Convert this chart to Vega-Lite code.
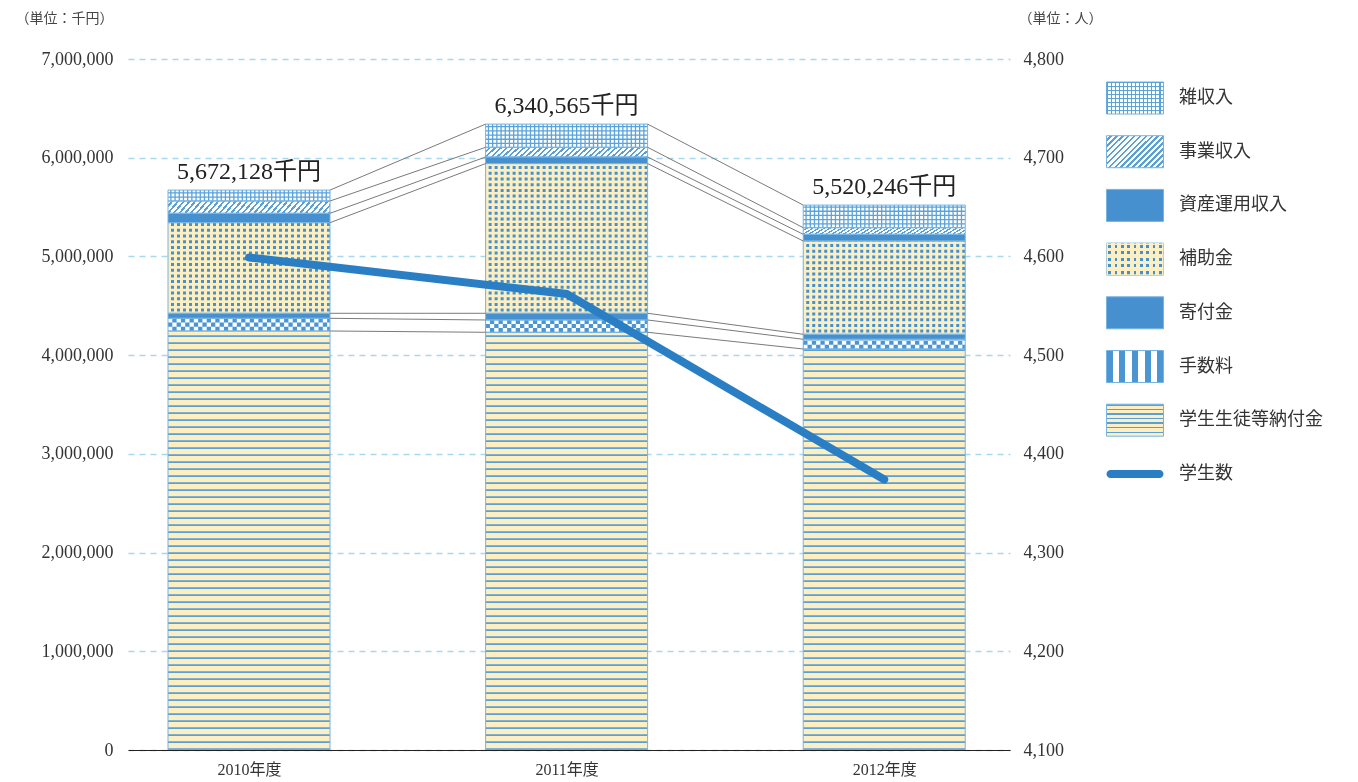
{
"$schema":"https://vega.github.io/schema/vega-lite/v6.json",
"width":882,"height":691,
"autosize":{"type":"none"},
"padding":{"left":128,"top":59,"right":348,"bottom":32},
"background":"#ffffff",
"config":{
 "view":{"stroke":null},
 "axis":{"labelFont":"Liberation Serif, Noto Sans CJK JP","labelColor":"#333333","labelFontSize":18,"titleFont":"Noto Sans CJK JP","titleFontWeight":"normal","titleColor":"#444444","titleFontSize":14}
},
"datasets":{
 "rev":[
  {"year":2010,"cat":"学生生徒等納付金","ord":1,"value":4244628},
  {"year":2010,"cat":"手数料","ord":2,"value":128600},
  {"year":2010,"cat":"寄付金","ord":3,"value":50700},
  {"year":2010,"cat":"補助金","ord":4,"value":917800},
  {"year":2010,"cat":"資産運用収入","ord":5,"value":95200},
  {"year":2010,"cat":"事業収入","ord":6,"value":124600},
  {"year":2010,"cat":"雑収入","ord":7,"value":110600},
  {"year":2011,"cat":"学生生徒等納付金","ord":1,"value":4231465},
  {"year":2011,"cat":"手数料","ord":2,"value":124600},
  {"year":2011,"cat":"寄付金","ord":3,"value":67900},
  {"year":2011,"cat":"補助金","ord":4,"value":1516500},
  {"year":2011,"cat":"資産運用収入","ord":5,"value":66900},
  {"year":2011,"cat":"事業収入","ord":6,"value":98200},
  {"year":2011,"cat":"雑収入","ord":7,"value":235000},
  {"year":2012,"cat":"学生生徒等納付金","ord":1,"value":4062246},
  {"year":2012,"cat":"手数料","ord":2,"value":98300},
  {"year":2012,"cat":"寄付金","ord":3,"value":50700},
  {"year":2012,"cat":"補助金","ord":4,"value":945100},
  {"year":2012,"cat":"資産運用収入","ord":5,"value":67900},
  {"year":2012,"cat":"事業収入","ord":6,"value":66900},
  {"year":2012,"cat":"雑収入","ord":7,"value":229100}
 ],
 "students":[
  {"year":2010,"students":4599},
  {"year":2011,"students":4562},
  {"year":2012,"students":4374}
 ]
},
"layer":[
 {
  "data":{"name":"rev"},
  "transform":[
   {"stack":"value","groupby":["year"],"sort":[{"field":"ord","order":"ascending"}],"as":["y0","y1"]},
   {"calculate":"(datum.y0 + datum.y1) / 2","as":"ym"},
   {"window":[{"op":"lead","field":"y1","as":"ny1"},{"op":"lead","field":"year","as":"nyear"}],"groupby":["cat"],"sort":[{"field":"year","order":"ascending"}]}
  ],
  "resolve":{"scale":{"fill":"independent","shape":"independent"}},
  "layer":[
   {
    "mark":{"type":"bar","width":162},
    "encoding":{
     "x":{"field":"year","type":"quantitative","scale":{"domain":[2009.619,2012.396],"nice":false,"zero":false,"padding":0},
      "axis":{"values":[2010,2011,2012],"labelExpr":"datum.value + '年度'","title":null,"grid":false,"ticks":false,"domain":true,"domainColor":"#222222","domainWidth":1.2,"labelPadding":11,"labelFontSize":16,"zindex":1}},
     "y":{"field":"y1","type":"quantitative","stack":null,"scale":{"domain":[0,7000000],"nice":false,"zero":false},
      "axis":{"values":[0,1000000,2000000,3000000,4000000,5000000,6000000,7000000],"format":",d","grid":true,"gridColor":"#a6d8ee","gridDash":[6,5],"gridWidth":1.3,"domain":false,"ticks":false,"labelPadding":15,"title":"（単位：千円）","titleAngle":0,"titleAlign":"right","titleBaseline":"alphabetic","titleX":-15,"titleY":-37}},
     "y2":{"field":"y0"},
     "fill":{"field":"cat","type":"nominal","legend":null,"scale":{"domain":["学生生徒等納付金","手数料","寄付金","補助金","資産運用収入","事業収入","雑収入"],
      "range":["#fdefc2","#ffffff","#4690cf","#fdefc2","#4690cf","#ffffff","#ffffff"]}}
    }
   },
   {
    "transform":[{"filter":"datum.cat === '事業収入'"}],
    "mark":{"type":"bar","width":162,
     "fill":{"gradient":"linear","x1":0,"y1":0,"x2":1.06,"y2":0.069,"stops":[
        {"offset":0,"color":"#fff"},
        {"offset":0.02,"color":"#fff"},{"offset":0.02,"color":"#5a9fd6"},{"offset":0.0333,"color":"#5a9fd6"},{"offset":0.0333,"color":"#fff"},
        {"offset":0.0533,"color":"#fff"},{"offset":0.0533,"color":"#5a9fd6"},{"offset":0.0667,"color":"#5a9fd6"},{"offset":0.0667,"color":"#fff"},
        {"offset":0.0867,"color":"#fff"},{"offset":0.0867,"color":"#5a9fd6"},{"offset":0.1,"color":"#5a9fd6"},{"offset":0.1,"color":"#fff"},
        {"offset":0.12,"color":"#fff"},{"offset":0.12,"color":"#5a9fd6"},{"offset":0.1333,"color":"#5a9fd6"},{"offset":0.1333,"color":"#fff"},
        {"offset":0.1533,"color":"#fff"},{"offset":0.1533,"color":"#5a9fd6"},{"offset":0.1667,"color":"#5a9fd6"},{"offset":0.1667,"color":"#fff"},
        {"offset":0.1867,"color":"#fff"},{"offset":0.1867,"color":"#5a9fd6"},{"offset":0.2,"color":"#5a9fd6"},{"offset":0.2,"color":"#fff"},
        {"offset":0.22,"color":"#fff"},{"offset":0.22,"color":"#5a9fd6"},{"offset":0.2333,"color":"#5a9fd6"},{"offset":0.2333,"color":"#fff"},
        {"offset":0.2533,"color":"#fff"},{"offset":0.2533,"color":"#5a9fd6"},{"offset":0.2667,"color":"#5a9fd6"},{"offset":0.2667,"color":"#fff"},
        {"offset":0.2867,"color":"#fff"},{"offset":0.2867,"color":"#5a9fd6"},{"offset":0.3,"color":"#5a9fd6"},{"offset":0.3,"color":"#fff"},
        {"offset":0.32,"color":"#fff"},{"offset":0.32,"color":"#5a9fd6"},{"offset":0.3333,"color":"#5a9fd6"},{"offset":0.3333,"color":"#fff"},
        {"offset":0.3533,"color":"#fff"},{"offset":0.3533,"color":"#5a9fd6"},{"offset":0.3667,"color":"#5a9fd6"},{"offset":0.3667,"color":"#fff"},
        {"offset":0.3867,"color":"#fff"},{"offset":0.3867,"color":"#5a9fd6"},{"offset":0.4,"color":"#5a9fd6"},{"offset":0.4,"color":"#fff"},
        {"offset":0.42,"color":"#fff"},{"offset":0.42,"color":"#5a9fd6"},{"offset":0.4333,"color":"#5a9fd6"},{"offset":0.4333,"color":"#fff"},
        {"offset":0.4533,"color":"#fff"},{"offset":0.4533,"color":"#5a9fd6"},{"offset":0.4667,"color":"#5a9fd6"},{"offset":0.4667,"color":"#fff"},
        {"offset":0.4867,"color":"#fff"},{"offset":0.4867,"color":"#5a9fd6"},{"offset":0.5,"color":"#5a9fd6"},{"offset":0.5,"color":"#fff"},
        {"offset":0.52,"color":"#fff"},{"offset":0.52,"color":"#5a9fd6"},{"offset":0.5333,"color":"#5a9fd6"},{"offset":0.5333,"color":"#fff"},
        {"offset":0.5533,"color":"#fff"},{"offset":0.5533,"color":"#5a9fd6"},{"offset":0.5667,"color":"#5a9fd6"},{"offset":0.5667,"color":"#fff"},
        {"offset":0.5867,"color":"#fff"},{"offset":0.5867,"color":"#5a9fd6"},{"offset":0.6,"color":"#5a9fd6"},{"offset":0.6,"color":"#fff"},
        {"offset":0.62,"color":"#fff"},{"offset":0.62,"color":"#5a9fd6"},{"offset":0.6333,"color":"#5a9fd6"},{"offset":0.6333,"color":"#fff"},
        {"offset":0.6533,"color":"#fff"},{"offset":0.6533,"color":"#5a9fd6"},{"offset":0.6667,"color":"#5a9fd6"},{"offset":0.6667,"color":"#fff"},
        {"offset":0.6867,"color":"#fff"},{"offset":0.6867,"color":"#5a9fd6"},{"offset":0.7,"color":"#5a9fd6"},{"offset":0.7,"color":"#fff"},
        {"offset":0.72,"color":"#fff"},{"offset":0.72,"color":"#5a9fd6"},{"offset":0.7333,"color":"#5a9fd6"},{"offset":0.7333,"color":"#fff"},
        {"offset":0.7533,"color":"#fff"},{"offset":0.7533,"color":"#5a9fd6"},{"offset":0.7667,"color":"#5a9fd6"},{"offset":0.7667,"color":"#fff"},
        {"offset":0.7867,"color":"#fff"},{"offset":0.7867,"color":"#5a9fd6"},{"offset":0.8,"color":"#5a9fd6"},{"offset":0.8,"color":"#fff"},
        {"offset":0.82,"color":"#fff"},{"offset":0.82,"color":"#5a9fd6"},{"offset":0.8333,"color":"#5a9fd6"},{"offset":0.8333,"color":"#fff"},
        {"offset":0.8533,"color":"#fff"},{"offset":0.8533,"color":"#5a9fd6"},{"offset":0.8667,"color":"#5a9fd6"},{"offset":0.8667,"color":"#fff"},
        {"offset":0.8867,"color":"#fff"},{"offset":0.8867,"color":"#5a9fd6"},{"offset":0.9,"color":"#5a9fd6"},{"offset":0.9,"color":"#fff"},
        {"offset":0.92,"color":"#fff"},{"offset":0.92,"color":"#5a9fd6"},{"offset":0.9333,"color":"#5a9fd6"},{"offset":0.9333,"color":"#fff"},
        {"offset":0.9533,"color":"#fff"},{"offset":0.9533,"color":"#5a9fd6"},{"offset":0.9667,"color":"#5a9fd6"},{"offset":0.9667,"color":"#fff"},
        {"offset":0.9867,"color":"#fff"},{"offset":0.9867,"color":"#5a9fd6"},{"offset":1,"color":"#5a9fd6"}
     ]}},
    "encoding":{
     "x":{"field":"year","type":"quantitative"},
     "y":{"field":"y1","type":"quantitative","stack":null},
     "y2":{"field":"y0"}
    }
   },
   {
    "transform":[{"filter":"datum.cat === '学生生徒等納付金'"}],
    "mark":{"type":"rule","stroke":"#5a9fd6","strokeWidth":162,"strokeDash":[1.7,5.3],"strokeCap":"butt"},
    "encoding":{
     "x":{"field":"year","type":"quantitative"},
     "y":{"field":"y0","type":"quantitative"},
     "y2":{"field":"y1"}
    }
   },
   {
    "transform":[{"filter":"datum.cat === '補助金'"}],
    "mark":{"type":"rule","stroke":"#4590cf","strokeWidth":162,"strokeDash":[3.0,2.7],"strokeDashOffset":4,"strokeCap":"butt"},
    "encoding":{
     "x":{"field":"year","type":"quantitative"},
     "y":{"field":"y0","type":"quantitative"},
     "y2":{"field":"y1"}
    }
   },
   {
    "transform":[{"filter":"datum.cat === '補助金'"}],
    "mark":{"type":"rule","stroke":"#fdefc2","strokeDash":[3.0,3.0],"strokeCap":"butt","xOffset":-81,"x2Offset":81},
    "encoding":{
     "x":{"field":"year","type":"quantitative"},
     "x2":{"field":"year"},
     "y":{"field":"ym","type":"quantitative"},
     "strokeWidth":{"field":"value","type":"quantitative","legend":null,"scale":{"domain":[0,7000000],"range":[0,691],"zero":true,"nice":false}}
    }
   },
   {
    "transform":[{"filter":"datum.cat === '雑収入'"}],
    "mark":{"type":"rule","stroke":"#5aa3db","strokeWidth":162,"strokeDash":[1.3,2.9],"strokeDashOffset":1,"strokeCap":"butt"},
    "encoding":{
     "x":{"field":"year","type":"quantitative"},
     "y":{"field":"y0","type":"quantitative"},
     "y2":{"field":"y1"}
    }
   },
   {
    "transform":[{"filter":"datum.cat === '雑収入'"}],
    "mark":{"type":"rule","stroke":"#5aa3db","strokeDash":[1.3,2.9],"strokeDashOffset":2,"strokeCap":"butt","xOffset":-81,"x2Offset":81},
    "encoding":{
     "x":{"field":"year","type":"quantitative"},
     "x2":{"field":"year"},
     "y":{"field":"ym","type":"quantitative"},
     "strokeWidth":{"field":"value","type":"quantitative","legend":null,"scale":{"domain":[0,7000000],"range":[0,691],"zero":true,"nice":false}}
    }
   },
   {
    "transform":[{"filter":"datum.cat === '手数料'"}],
    "mark":{"type":"rule","stroke":"#ffffff","strokeDash":[4.3,4.3],"strokeCap":"butt","blend":"difference","xOffset":-81,"x2Offset":81},
    "encoding":{
     "x":{"field":"year","type":"quantitative"},
     "x2":{"field":"year"},
     "y":{"field":"ym","type":"quantitative"},
     "strokeWidth":{"field":"value","type":"quantitative","legend":null,"scale":{"domain":[0,7000000],"range":[0,691],"zero":true,"nice":false}}
    }
   },
   {
    "transform":[{"filter":"datum.cat === '手数料'"}],
    "mark":{"type":"rule","stroke":"#ffffff","strokeWidth":162,"strokeDash":[4.2,4.2],"strokeCap":"butt","blend":"difference"},
    "encoding":{
     "x":{"field":"year","type":"quantitative"},
     "y":{"field":"y0","type":"quantitative"},
     "y2":{"field":"y1"}
    }
   },
   {
    "transform":[{"filter":"datum.cat === '手数料'"}],
    "mark":{"type":"bar","width":162,"fill":"#4a95d2","blend":"screen"},
    "encoding":{
     "x":{"field":"year","type":"quantitative"},
     "y":{"field":"y1","type":"quantitative","stack":null},
     "y2":{"field":"y0"}
    }
   },
   {
    "mark":{"type":"bar","width":162,"fill":"transparent","stroke":"#76b4e2","strokeWidth":1},
    "encoding":{
     "x":{"field":"year","type":"quantitative"},
     "y":{"field":"y1","type":"quantitative","stack":null},
     "y2":{"field":"y0"}
    }
   },
   {
    "transform":[{"filter":"datum.nyear != null"}],
    "mark":{"type":"rule","stroke":"#7a7a7a","strokeWidth":1,"xOffset":81,"x2Offset":-81},
    "encoding":{
     "x":{"field":"year","type":"quantitative"},
     "x2":{"field":"nyear"},
     "y":{"field":"y1","type":"quantitative"},
     "y2":{"field":"ny1"}
    }
   },
   {
    "transform":[{"filter":"datum.cat === '雑収入'"},{"calculate":"format(datum.y1, ',') + '千円'","as":"label"}],
    "mark":{"type":"text","font":"Liberation Serif, Noto Sans CJK JP","fontSize":24,"fill":"#222222","baseline":"alphabetic","dy":-11},
    "encoding":{
     "x":{"field":"year","type":"quantitative"},
     "y":{"field":"y1","type":"quantitative"},
     "text":{"field":"label","type":"nominal"}
    }
   },
   {
    "mark":{"type":"point","filled":true,"opacity":0},
    "encoding":{
     "x":{"field":"year","type":"quantitative"},
     "y":{"field":"y1","type":"quantitative"},
     "shape":{"field":"cat","type":"nominal",
      "scale":{"domain":["雑収入","事業収入","資産運用収入","補助金","寄付金","手数料","学生生徒等納付金","学生数"],
       "range":["M-1,-0.5614H1V0.5614H-1Z","M-1,-0.5614H1V0.5614H-1Z","M-1,-0.5614H1V0.5614H-1Z","M-1,-0.5614H1V0.5614H-1Z","M-1,-0.5614H1V0.5614H-1Z","M-1,-0.5614H1V0.5614H-1Z","M-1,-0.5614H1V0.5614H-1Z",
        "M-0.8596,-0.1404H0.8596A0.1404,0.1404 0 0 1 0.8596,0.1404H-0.8596A0.1404,0.1404 0 0 1 -0.8596,-0.1404ZM-1,-0.5614M1,0.5614"]},
      "legend":{"title":null,"orient":"none","legendX":978,"legendY":10,"padding":0,"rowPadding":6.7,"symbolSize":3249,"symbolStrokeWidth":1,"labelFont":"Noto Sans CJK JP","labelFontSize":18,"labelColor":"#333333","labelOffset":15,"labelLimit":400,
       "encoding":{"symbols":{
        "stroke":{"condition":{"test":"datum.value === '学生数'","value":"transparent"},"value":"#76b4e2"},
        "strokeWidth":{"value":1},
        "opacity":{"value":1},
        "fill":{"condition":[
         {"test":"datum.value === '雑収入'","value":"#ffffff"},
         {"test":"datum.value === '補助金'","value":"#fdefc2"},
         {"test":"datum.value === '学生数'","value":"#2a7fc4"},
         {"test":"datum.value === '事業収入'","value":{"gradient":"linear","x1":0,"y1":0,"x2":1.187,"y2":0.667,"stops":[
          {"offset":0,"color":"#fff"},
          {"offset":0.0367,"color":"#fff"},{"offset":0.0367,"color":"#5a9fd6"},{"offset":0.0667,"color":"#5a9fd6"},{"offset":0.0667,"color":"#fff"},
          {"offset":0.1033,"color":"#fff"},{"offset":0.1033,"color":"#5a9fd6"},{"offset":0.1333,"color":"#5a9fd6"},{"offset":0.1333,"color":"#fff"},
          {"offset":0.17,"color":"#fff"},{"offset":0.17,"color":"#5a9fd6"},{"offset":0.2,"color":"#5a9fd6"},{"offset":0.2,"color":"#fff"},
          {"offset":0.2367,"color":"#fff"},{"offset":0.2367,"color":"#5a9fd6"},{"offset":0.2667,"color":"#5a9fd6"},{"offset":0.2667,"color":"#fff"},
          {"offset":0.3033,"color":"#fff"},{"offset":0.3033,"color":"#5a9fd6"},{"offset":0.3333,"color":"#5a9fd6"},{"offset":0.3333,"color":"#fff"},
          {"offset":0.37,"color":"#fff"},{"offset":0.37,"color":"#5a9fd6"},{"offset":0.4,"color":"#5a9fd6"},{"offset":0.4,"color":"#fff"},
          {"offset":0.4367,"color":"#fff"},{"offset":0.4367,"color":"#5a9fd6"},{"offset":0.4667,"color":"#5a9fd6"},{"offset":0.4667,"color":"#fff"},
          {"offset":0.5033,"color":"#fff"},{"offset":0.5033,"color":"#5a9fd6"},{"offset":0.5333,"color":"#5a9fd6"},{"offset":0.5333,"color":"#fff"},
          {"offset":0.57,"color":"#fff"},{"offset":0.57,"color":"#5a9fd6"},{"offset":0.6,"color":"#5a9fd6"},{"offset":0.6,"color":"#fff"},
          {"offset":0.6367,"color":"#fff"},{"offset":0.6367,"color":"#5a9fd6"},{"offset":0.6667,"color":"#5a9fd6"},{"offset":0.6667,"color":"#fff"},
          {"offset":0.7033,"color":"#fff"},{"offset":0.7033,"color":"#5a9fd6"},{"offset":0.7333,"color":"#5a9fd6"},{"offset":0.7333,"color":"#fff"},
          {"offset":0.77,"color":"#fff"},{"offset":0.77,"color":"#5a9fd6"},{"offset":0.8,"color":"#5a9fd6"},{"offset":0.8,"color":"#fff"},
          {"offset":0.8367,"color":"#fff"},{"offset":0.8367,"color":"#5a9fd6"},{"offset":0.8667,"color":"#5a9fd6"},{"offset":0.8667,"color":"#fff"},
          {"offset":0.9033,"color":"#fff"},{"offset":0.9033,"color":"#5a9fd6"},{"offset":0.9333,"color":"#5a9fd6"},{"offset":0.9333,"color":"#fff"},
          {"offset":0.97,"color":"#fff"},{"offset":0.97,"color":"#5a9fd6"},{"offset":1,"color":"#5a9fd6"}
         ]}},
         {"test":"datum.value === '手数料'","value":{"gradient":"linear","x1":0,"y1":0,"x2":1,"y2":0,"stops":[
          {"offset":0,"color":"#4a95d2"},{"offset":0.1111,"color":"#4a95d2"},{"offset":0.1111,"color":"#fff"},{"offset":0.2222,"color":"#fff"},
          {"offset":0.2222,"color":"#4a95d2"},{"offset":0.3333,"color":"#4a95d2"},{"offset":0.3333,"color":"#fff"},{"offset":0.4444,"color":"#fff"},
          {"offset":0.4444,"color":"#4a95d2"},{"offset":0.5556,"color":"#4a95d2"},{"offset":0.5556,"color":"#fff"},{"offset":0.6667,"color":"#fff"},
          {"offset":0.6667,"color":"#4a95d2"},{"offset":0.7778,"color":"#4a95d2"},{"offset":0.7778,"color":"#fff"},{"offset":0.8889,"color":"#fff"},
          {"offset":0.8889,"color":"#4a95d2"},{"offset":1,"color":"#4a95d2"}
         ]}},
         {"test":"datum.value === '学生生徒等納付金'","value":{"gradient":"linear","x1":0,"y1":0,"x2":0,"y2":1,"stops":[
          {"offset":0,"color":"#5a9fd6"},{"offset":0.0429,"color":"#5a9fd6"},{"offset":0.0429,"color":"#fdefc2"},{"offset":0.1429,"color":"#fdefc2"},
          {"offset":0.1429,"color":"#5a9fd6"},{"offset":0.1857,"color":"#5a9fd6"},{"offset":0.1857,"color":"#fdefc2"},{"offset":0.2857,"color":"#fdefc2"},
          {"offset":0.2857,"color":"#5a9fd6"},{"offset":0.3286,"color":"#5a9fd6"},{"offset":0.3286,"color":"#fdefc2"},{"offset":0.4286,"color":"#fdefc2"},
          {"offset":0.4286,"color":"#5a9fd6"},{"offset":0.4714,"color":"#5a9fd6"},{"offset":0.4714,"color":"#fdefc2"},{"offset":0.5714,"color":"#fdefc2"},
          {"offset":0.5714,"color":"#5a9fd6"},{"offset":0.6143,"color":"#5a9fd6"},{"offset":0.6143,"color":"#fdefc2"},{"offset":0.7143,"color":"#fdefc2"},
          {"offset":0.7143,"color":"#5a9fd6"},{"offset":0.7571,"color":"#5a9fd6"},{"offset":0.7571,"color":"#fdefc2"},{"offset":0.8571,"color":"#fdefc2"},
          {"offset":0.8571,"color":"#5a9fd6"},{"offset":0.9,"color":"#5a9fd6"},{"offset":0.9,"color":"#fdefc2"},{"offset":1,"color":"#fdefc2"}
         ]}}
        ],"value":"#4690cf"}
       }}}}
    }
   },
   {
    "mark":{"type":"point","filled":true,"opacity":0},
    "encoding":{
     "x":{"field":"year","type":"quantitative"},
     "y":{"field":"y1","type":"quantitative"},
     "shape":{"field":"cat","type":"nominal",
      "scale":{"domain":["雑収入","事業収入","資産運用収入","補助金","寄付金","手数料","学生生徒等納付金","学生数"],
       "range":["M-1,-0.5614H1V0.5614H-1Z","M-1,-0.5614H1V0.5614H-1Z","M-1,-0.5614H1V0.5614H-1Z","M-1,-0.5614H1V0.5614H-1Z","M-1,-0.5614H1V0.5614H-1Z","M-1,-0.5614H1V0.5614H-1Z","M-1,-0.5614H1V0.5614H-1Z",
        "M-0.8596,-0.1404H0.8596A0.1404,0.1404 0 0 1 0.8596,0.1404H-0.8596A0.1404,0.1404 0 0 1 -0.8596,-0.1404ZM-1,-0.5614M1,0.5614"]},
      "legend":{"title":null,"orient":"none","legendX":978,"legendY":10,"padding":0,"rowPadding":6.7,"symbolSize":3249,"symbolStrokeWidth":1,"labelFont":"Noto Sans CJK JP","labelFontSize":18,"labelColor":"transparent","labelOffset":15,"labelLimit":400,
       "encoding":{"symbols":{
        "stroke":{"value":"transparent"},"strokeWidth":{"value":1},"opacity":{"value":1},
        "fill":{"condition":[
         {"test":"datum.value === '雑収入'","value":{"gradient":"linear","x1":0,"y1":0,"x2":0,"y2":1,"stops":[
          {"offset":0,"color":"#5aa3db"},{"offset":0.0375,"color":"#5aa3db"},{"offset":0.0375,"color":"rgba(0,0,0,0)"},{"offset":0.125,"color":"rgba(0,0,0,0)"},
          {"offset":0.125,"color":"#5aa3db"},{"offset":0.1625,"color":"#5aa3db"},{"offset":0.1625,"color":"rgba(0,0,0,0)"},{"offset":0.25,"color":"rgba(0,0,0,0)"},
          {"offset":0.25,"color":"#5aa3db"},{"offset":0.2875,"color":"#5aa3db"},{"offset":0.2875,"color":"rgba(0,0,0,0)"},{"offset":0.375,"color":"rgba(0,0,0,0)"},
          {"offset":0.375,"color":"#5aa3db"},{"offset":0.4125,"color":"#5aa3db"},{"offset":0.4125,"color":"rgba(0,0,0,0)"},{"offset":0.5,"color":"rgba(0,0,0,0)"},
          {"offset":0.5,"color":"#5aa3db"},{"offset":0.5375,"color":"#5aa3db"},{"offset":0.5375,"color":"rgba(0,0,0,0)"},{"offset":0.625,"color":"rgba(0,0,0,0)"},
          {"offset":0.625,"color":"#5aa3db"},{"offset":0.6625,"color":"#5aa3db"},{"offset":0.6625,"color":"rgba(0,0,0,0)"},{"offset":0.75,"color":"rgba(0,0,0,0)"},
          {"offset":0.75,"color":"#5aa3db"},{"offset":0.7875,"color":"#5aa3db"},{"offset":0.7875,"color":"rgba(0,0,0,0)"},{"offset":0.875,"color":"rgba(0,0,0,0)"},
          {"offset":0.875,"color":"#5aa3db"},{"offset":0.9125,"color":"#5aa3db"},{"offset":0.9125,"color":"rgba(0,0,0,0)"},{"offset":1,"color":"rgba(0,0,0,0)"}
         ]}},
         {"test":"datum.value === '補助金'","value":{"gradient":"linear","x1":0,"y1":0,"x2":0,"y2":1,"stops":[
          {"offset":0,"color":"rgba(0,0,0,0)"},
          {"offset":0.06,"color":"rgba(0,0,0,0)"},{"offset":0.06,"color":"#4590cf"},{"offset":0.15,"color":"#4590cf"},{"offset":0.15,"color":"rgba(0,0,0,0)"},
          {"offset":0.26,"color":"rgba(0,0,0,0)"},{"offset":0.26,"color":"#4590cf"},{"offset":0.35,"color":"#4590cf"},{"offset":0.35,"color":"rgba(0,0,0,0)"},
          {"offset":0.46,"color":"rgba(0,0,0,0)"},{"offset":0.46,"color":"#4590cf"},{"offset":0.55,"color":"#4590cf"},{"offset":0.55,"color":"rgba(0,0,0,0)"},
          {"offset":0.66,"color":"rgba(0,0,0,0)"},{"offset":0.66,"color":"#4590cf"},{"offset":0.75,"color":"#4590cf"},{"offset":0.75,"color":"rgba(0,0,0,0)"},
          {"offset":0.86,"color":"rgba(0,0,0,0)"},{"offset":0.86,"color":"#4590cf"},{"offset":0.95,"color":"#4590cf"},{"offset":0.95,"color":"rgba(0,0,0,0)"},
          {"offset":1,"color":"rgba(0,0,0,0)"}
         ]}}
        ],"value":"transparent"}
       }}}}
    }
   },
   {
    "mark":{"type":"point","filled":true,"opacity":0},
    "encoding":{
     "x":{"field":"year","type":"quantitative"},
     "y":{"field":"y1","type":"quantitative"},
     "shape":{"field":"cat","type":"nominal",
      "scale":{"domain":["雑収入","事業収入","資産運用収入","補助金","寄付金","手数料","学生生徒等納付金","学生数"],
       "range":["M-1,-0.5614H1V0.5614H-1Z","M-1,-0.5614H1V0.5614H-1Z","M-1,-0.5614H1V0.5614H-1Z","M-1,-0.5614H1V0.5614H-1Z","M-1,-0.5614H1V0.5614H-1Z","M-1,-0.5614H1V0.5614H-1Z","M-1,-0.5614H1V0.5614H-1Z",
        "M-0.8596,-0.1404H0.8596A0.1404,0.1404 0 0 1 0.8596,0.1404H-0.8596A0.1404,0.1404 0 0 1 -0.8596,-0.1404ZM-1,-0.5614M1,0.5614"]},
      "legend":{"title":null,"orient":"none","legendX":978,"legendY":10,"padding":0,"rowPadding":6.7,"symbolSize":3249,"symbolStrokeWidth":1,"labelFont":"Noto Sans CJK JP","labelFontSize":18,"labelColor":"transparent","labelOffset":15,"labelLimit":400,
       "encoding":{"symbols":{
        "stroke":{"value":"transparent"},"strokeWidth":{"value":1},"opacity":{"value":1},
        "fill":{"condition":[
         {"test":"datum.value === '雑収入'","value":{"gradient":"linear","x1":0,"y1":0,"x2":1,"y2":0,"stops":[
          {"offset":0,"color":"#5aa3db"},{"offset":0.02,"color":"#5aa3db"},{"offset":0.02,"color":"rgba(0,0,0,0)"},{"offset":0.0714,"color":"rgba(0,0,0,0)"},
          {"offset":0.0714,"color":"#5aa3db"},{"offset":0.0914,"color":"#5aa3db"},{"offset":0.0914,"color":"rgba(0,0,0,0)"},{"offset":0.1429,"color":"rgba(0,0,0,0)"},
          {"offset":0.1429,"color":"#5aa3db"},{"offset":0.1629,"color":"#5aa3db"},{"offset":0.1629,"color":"rgba(0,0,0,0)"},{"offset":0.2143,"color":"rgba(0,0,0,0)"},
          {"offset":0.2143,"color":"#5aa3db"},{"offset":0.2343,"color":"#5aa3db"},{"offset":0.2343,"color":"rgba(0,0,0,0)"},{"offset":0.2857,"color":"rgba(0,0,0,0)"},
          {"offset":0.2857,"color":"#5aa3db"},{"offset":0.3057,"color":"#5aa3db"},{"offset":0.3057,"color":"rgba(0,0,0,0)"},{"offset":0.3571,"color":"rgba(0,0,0,0)"},
          {"offset":0.3571,"color":"#5aa3db"},{"offset":0.3771,"color":"#5aa3db"},{"offset":0.3771,"color":"rgba(0,0,0,0)"},{"offset":0.4286,"color":"rgba(0,0,0,0)"},
          {"offset":0.4286,"color":"#5aa3db"},{"offset":0.4486,"color":"#5aa3db"},{"offset":0.4486,"color":"rgba(0,0,0,0)"},{"offset":0.5,"color":"rgba(0,0,0,0)"},
          {"offset":0.5,"color":"#5aa3db"},{"offset":0.52,"color":"#5aa3db"},{"offset":0.52,"color":"rgba(0,0,0,0)"},{"offset":0.5714,"color":"rgba(0,0,0,0)"},
          {"offset":0.5714,"color":"#5aa3db"},{"offset":0.5914,"color":"#5aa3db"},{"offset":0.5914,"color":"rgba(0,0,0,0)"},{"offset":0.6429,"color":"rgba(0,0,0,0)"},
          {"offset":0.6429,"color":"#5aa3db"},{"offset":0.6629,"color":"#5aa3db"},{"offset":0.6629,"color":"rgba(0,0,0,0)"},{"offset":0.7143,"color":"rgba(0,0,0,0)"},
          {"offset":0.7143,"color":"#5aa3db"},{"offset":0.7343,"color":"#5aa3db"},{"offset":0.7343,"color":"rgba(0,0,0,0)"},{"offset":0.7857,"color":"rgba(0,0,0,0)"},
          {"offset":0.7857,"color":"#5aa3db"},{"offset":0.8057,"color":"#5aa3db"},{"offset":0.8057,"color":"rgba(0,0,0,0)"},{"offset":0.8571,"color":"rgba(0,0,0,0)"},
          {"offset":0.8571,"color":"#5aa3db"},{"offset":0.8771,"color":"#5aa3db"},{"offset":0.8771,"color":"rgba(0,0,0,0)"},{"offset":0.9286,"color":"rgba(0,0,0,0)"},
          {"offset":0.9286,"color":"#5aa3db"},{"offset":0.9486,"color":"#5aa3db"},{"offset":0.9486,"color":"rgba(0,0,0,0)"},{"offset":1,"color":"rgba(0,0,0,0)"}
         ]}},
         {"test":"datum.value === '補助金'","value":{"gradient":"linear","x1":0,"y1":0,"x2":1,"y2":0,"stops":[
          {"offset":0,"color":"#fdefc2"},
          {"offset":0.0333,"color":"#fdefc2"},{"offset":0.0333,"color":"rgba(0,0,0,0)"},{"offset":0.0778,"color":"rgba(0,0,0,0)"},{"offset":0.0778,"color":"#fdefc2"},
          {"offset":0.1444,"color":"#fdefc2"},{"offset":0.1444,"color":"rgba(0,0,0,0)"},{"offset":0.1889,"color":"rgba(0,0,0,0)"},{"offset":0.1889,"color":"#fdefc2"},
          {"offset":0.2556,"color":"#fdefc2"},{"offset":0.2556,"color":"rgba(0,0,0,0)"},{"offset":0.3,"color":"rgba(0,0,0,0)"},{"offset":0.3,"color":"#fdefc2"},
          {"offset":0.3667,"color":"#fdefc2"},{"offset":0.3667,"color":"rgba(0,0,0,0)"},{"offset":0.4111,"color":"rgba(0,0,0,0)"},{"offset":0.4111,"color":"#fdefc2"},
          {"offset":0.4778,"color":"#fdefc2"},{"offset":0.4778,"color":"rgba(0,0,0,0)"},{"offset":0.5222,"color":"rgba(0,0,0,0)"},{"offset":0.5222,"color":"#fdefc2"},
          {"offset":0.5889,"color":"#fdefc2"},{"offset":0.5889,"color":"rgba(0,0,0,0)"},{"offset":0.6333,"color":"rgba(0,0,0,0)"},{"offset":0.6333,"color":"#fdefc2"},
          {"offset":0.7,"color":"#fdefc2"},{"offset":0.7,"color":"rgba(0,0,0,0)"},{"offset":0.7444,"color":"rgba(0,0,0,0)"},{"offset":0.7444,"color":"#fdefc2"},
          {"offset":0.8111,"color":"#fdefc2"},{"offset":0.8111,"color":"rgba(0,0,0,0)"},{"offset":0.8556,"color":"rgba(0,0,0,0)"},{"offset":0.8556,"color":"#fdefc2"},
          {"offset":0.9222,"color":"#fdefc2"},{"offset":0.9222,"color":"rgba(0,0,0,0)"},{"offset":0.9667,"color":"rgba(0,0,0,0)"},{"offset":0.9667,"color":"#fdefc2"},
          {"offset":1,"color":"#fdefc2"}
         ]}}
        ],"value":"transparent"}
       }}}}
    }
   }
  ]
 },
 {
  "data":{"name":"students"},
  "mark":{"type":"line","stroke":"#2a7fc4","strokeWidth":8,"strokeCap":"round","strokeJoin":"miter"},
  "encoding":{
   "x":{"field":"year","type":"quantitative","scale":{"domain":[2009.619,2012.396],"nice":false,"zero":false,"padding":0}},
   "y":{"field":"students","type":"quantitative","scale":{"domain":[4100,4800],"nice":false,"zero":false},
    "axis":{"orient":"right","values":[4100,4200,4300,4400,4500,4600,4700,4800],"format":",d","grid":false,"domain":false,"ticks":false,"labelPadding":13,"title":"（単位：人）","titleAngle":0,"titleAlign":"left","titleBaseline":"alphabetic","titleX":8,"titleY":-37}}
  }
 }
],
"resolve":{"scale":{"y":"independent"}}
}
